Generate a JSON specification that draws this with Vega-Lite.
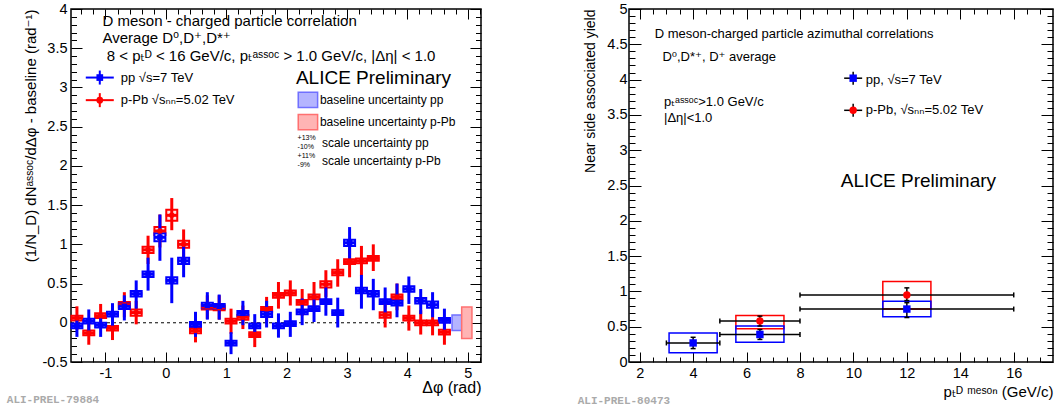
{
  "$schema": "https://vega.github.io/schema/vega-lite/v6.json",
  "background": "white",
  "padding": {"left": 6, "top": 0, "right": 0, "bottom": 0},
  "spacing": 93,
  "config": {
    "font": "Liberation Sans, DejaVu Sans, sans-serif",
    "view": {"stroke": "black", "strokeWidth": 1.5},
    "axis": {"grid": false, "domain": false, "labelColor": "black", "tickColor": "black", "titleColor": "black", "titleFontWeight": "normal", "labelFlush": false, "labelOverlap": false, "tickWidth": 1, "zindex": 1}
  },
  "datasets": {
    "zero": [{"x0": -1.5708, "x1": 4.7124, "y": 0}],
    "bunc": [
      {"s": "pp", "x0": 4.74, "x1": 4.90, "y0": -0.10, "y1": 0.10},
      {"s": "pp", "x0": 2.193, "x1": 2.514, "y0": 2.745, "y1": 2.939},
      {"s": "pPb", "x0": 4.90, "x1": 5.07, "y0": -0.20, "y1": 0.20},
      {"s": "pPb", "x0": 2.193, "x1": 2.514, "y0": 2.462, "y1": 2.656}
    ],
    "lpts": [
      {"p": -1.4726, "s": "pPb", "v": 0.06, "lo": -0.09, "hi": 0.21, "slo": 0.03, "shi": 0.09},
      {"p": -1.2763, "s": "pPb", "v": -0.13, "lo": -0.28, "hi": 0.03, "slo": -0.16, "shi": -0.10},
      {"p": -1.0799, "s": "pPb", "v": 0.09, "lo": -0.06, "hi": 0.24, "slo": 0.06, "shi": 0.12},
      {"p": -0.8836, "s": "pPb", "v": -0.07, "lo": -0.22, "hi": 0.09, "slo": -0.10, "shi": -0.04},
      {"p": -0.6872, "s": "pPb", "v": 0.23, "lo": 0.07, "hi": 0.39, "slo": 0.195, "shi": 0.265},
      {"p": -0.4909, "s": "pPb", "v": 0.13, "lo": -0.02, "hi": 0.28, "slo": 0.09, "shi": 0.17},
      {"p": -0.2945, "s": "pPb", "v": 0.93, "lo": 0.75, "hi": 1.11, "slo": 0.89, "shi": 0.97},
      {"p": -0.0982, "s": "pPb", "v": 1.17, "lo": 0.96, "hi": 1.38, "slo": 1.12, "shi": 1.22},
      {"p": 0.0982, "s": "pPb", "v": 1.37, "lo": 1.18, "hi": 1.59, "slo": 1.30, "shi": 1.44},
      {"p": 0.2945, "s": "pPb", "v": 1.00, "lo": 0.80, "hi": 1.19, "slo": 0.955, "shi": 1.045},
      {"p": 0.4909, "s": "pPb", "v": -0.10, "lo": -0.25, "hi": 0.05, "slo": -0.135, "shi": -0.065},
      {"p": 0.6872, "s": "pPb", "v": 0.20, "lo": 0.05, "hi": 0.35, "slo": 0.17, "shi": 0.23},
      {"p": 0.8836, "s": "pPb", "v": 0.19, "lo": 0.04, "hi": 0.35, "slo": 0.16, "shi": 0.22},
      {"p": 1.0799, "s": "pPb", "v": 0.02, "lo": -0.14, "hi": 0.18, "slo": -0.01, "shi": 0.05},
      {"p": 1.2763, "s": "pPb", "v": 0.07, "lo": -0.08, "hi": 0.22, "slo": 0.04, "shi": 0.10},
      {"p": 1.4726, "s": "pPb", "v": -0.15, "lo": -0.31, "hi": 0.01, "slo": -0.18, "shi": -0.12},
      {"p": 1.6690, "s": "pPb", "v": 0.17, "lo": 0.01, "hi": 0.33, "slo": 0.14, "shi": 0.20},
      {"p": 1.8653, "s": "pPb", "v": 0.35, "lo": 0.18, "hi": 0.52, "slo": 0.32, "shi": 0.38},
      {"p": 2.0617, "s": "pPb", "v": 0.38, "lo": 0.22, "hi": 0.54, "slo": 0.35, "shi": 0.41},
      {"p": 2.2580, "s": "pPb", "v": 0.26, "lo": 0.09, "hi": 0.43, "slo": 0.23, "shi": 0.29},
      {"p": 2.4544, "s": "pPb", "v": 0.33, "lo": 0.16, "hi": 0.52, "slo": 0.30, "shi": 0.36},
      {"p": 2.6507, "s": "pPb", "v": 0.49, "lo": 0.33, "hi": 0.67, "slo": 0.45, "shi": 0.53},
      {"p": 2.8471, "s": "pPb", "v": 0.64, "lo": 0.46, "hi": 0.81, "slo": 0.605, "shi": 0.675},
      {"p": 3.0434, "s": "pPb", "v": 0.78, "lo": 0.58, "hi": 0.96, "slo": 0.75, "shi": 0.81},
      {"p": 3.2398, "s": "pPb", "v": 0.79, "lo": 0.60, "hi": 0.98, "slo": 0.76, "shi": 0.82},
      {"p": 3.4361, "s": "pPb", "v": 0.82, "lo": 0.66, "hi": 1.00, "slo": 0.79, "shi": 0.85},
      {"p": 3.6325, "s": "pPb", "v": 0.10, "lo": -0.06, "hi": 0.26, "slo": 0.065, "shi": 0.135},
      {"p": 3.8288, "s": "pPb", "v": 0.33, "lo": 0.16, "hi": 0.50, "slo": 0.30, "shi": 0.36},
      {"p": 4.0252, "s": "pPb", "v": 0.06, "lo": -0.10, "hi": 0.22, "slo": 0.03, "shi": 0.09},
      {"p": 4.2215, "s": "pPb", "v": 0.00, "lo": -0.15, "hi": 0.16, "slo": -0.03, "shi": 0.03},
      {"p": 4.4179, "s": "pPb", "v": 0.00, "lo": -0.16, "hi": 0.16, "slo": -0.03, "shi": 0.03},
      {"p": 4.6142, "s": "pPb", "v": -0.12, "lo": -0.28, "hi": 0.03, "slo": -0.15, "shi": -0.09},
      {"p": -1.4726, "s": "pp", "v": -0.04, "lo": -0.18, "hi": 0.09, "slo": -0.07, "shi": -0.01},
      {"p": -1.2763, "s": "pp", "v": 0.02, "lo": -0.12, "hi": 0.17, "slo": -0.01, "shi": 0.05},
      {"p": -1.0799, "s": "pp", "v": -0.03, "lo": -0.18, "hi": 0.12, "slo": -0.06, "shi": 0.00},
      {"p": -0.8836, "s": "pp", "v": 0.11, "lo": -0.06, "hi": 0.25, "slo": 0.08, "shi": 0.14},
      {"p": -0.6872, "s": "pp", "v": 0.21, "lo": 0.03, "hi": 0.35, "slo": 0.175, "shi": 0.245},
      {"p": -0.4909, "s": "pp", "v": 0.37, "lo": 0.18, "hi": 0.54, "slo": 0.335, "shi": 0.405},
      {"p": -0.2945, "s": "pp", "v": 0.62, "lo": 0.41, "hi": 0.83, "slo": 0.585, "shi": 0.655},
      {"p": -0.0982, "s": "pp", "v": 1.09, "lo": 0.79, "hi": 1.38, "slo": 1.04, "shi": 1.14},
      {"p": 0.0982, "s": "pp", "v": 0.54, "lo": 0.25, "hi": 0.83, "slo": 0.50, "shi": 0.58},
      {"p": 0.2945, "s": "pp", "v": 0.79, "lo": 0.58, "hi": 1.00, "slo": 0.75, "shi": 0.83},
      {"p": 0.4909, "s": "pp", "v": -0.02, "lo": -0.18, "hi": 0.14, "slo": -0.05, "shi": 0.01},
      {"p": 0.6872, "s": "pp", "v": 0.22, "lo": 0.04, "hi": 0.39, "slo": 0.185, "shi": 0.255},
      {"p": 0.8836, "s": "pp", "v": 0.21, "lo": 0.04, "hi": 0.36, "slo": 0.18, "shi": 0.24},
      {"p": 1.0799, "s": "pp", "v": -0.26, "lo": -0.40, "hi": -0.12, "slo": -0.29, "shi": -0.23},
      {"p": 1.2763, "s": "pp", "v": 0.12, "lo": -0.03, "hi": 0.28, "slo": 0.09, "shi": 0.15},
      {"p": 1.4726, "s": "pp", "v": -0.04, "lo": -0.18, "hi": 0.11, "slo": -0.07, "shi": -0.01},
      {"p": 1.6690, "s": "pp", "v": 0.11, "lo": -0.06, "hi": 0.28, "slo": 0.075, "shi": 0.145},
      {"p": 1.8653, "s": "pp", "v": -0.04, "lo": -0.19, "hi": 0.12, "slo": -0.07, "shi": -0.01},
      {"p": 2.0617, "s": "pp", "v": -0.01, "lo": -0.18, "hi": 0.14, "slo": -0.04, "shi": 0.02},
      {"p": 2.2580, "s": "pp", "v": 0.14, "lo": -0.03, "hi": 0.31, "slo": 0.11, "shi": 0.17},
      {"p": 2.4544, "s": "pp", "v": 0.18, "lo": 0.01, "hi": 0.36, "slo": 0.15, "shi": 0.21},
      {"p": 2.6507, "s": "pp", "v": 0.27, "lo": 0.09, "hi": 0.45, "slo": 0.24, "shi": 0.30},
      {"p": 2.8471, "s": "pp", "v": 0.13, "lo": -0.06, "hi": 0.32, "slo": 0.10, "shi": 0.16},
      {"p": 3.0434, "s": "pp", "v": 1.02, "lo": 0.82, "hi": 1.22, "slo": 0.98, "shi": 1.06},
      {"p": 3.2398, "s": "pp", "v": 0.41, "lo": 0.18, "hi": 0.61, "slo": 0.375, "shi": 0.445},
      {"p": 3.4361, "s": "pp", "v": 0.37, "lo": 0.16, "hi": 0.56, "slo": 0.335, "shi": 0.405},
      {"p": 3.6325, "s": "pp", "v": 0.27, "lo": 0.07, "hi": 0.45, "slo": 0.24, "shi": 0.30},
      {"p": 3.8288, "s": "pp", "v": 0.25, "lo": 0.07, "hi": 0.50, "slo": 0.22, "shi": 0.28},
      {"p": 4.0252, "s": "pp", "v": 0.43, "lo": 0.24, "hi": 0.59, "slo": 0.395, "shi": 0.465},
      {"p": 4.2215, "s": "pp", "v": 0.28, "lo": 0.11, "hi": 0.43, "slo": 0.245, "shi": 0.315},
      {"p": 4.4179, "s": "pp", "v": 0.23, "lo": 0.07, "hi": 0.39, "slo": 0.19, "shi": 0.27},
      {"p": 4.6142, "s": "pp", "v": 0.03, "lo": -0.10, "hi": 0.18, "slo": 0.00, "shi": 0.06}
    ],
    "lleg": [{"s": "pp", "lx": -1.094, "ly": 3.126}, {"s": "pPb", "lx": -1.094, "ly": 2.838}],
    "lt15": [
      {"tx": -1.049, "ty": 3.845, "t": "D meson  - charged particle correlation"},
      {"tx": -1.049, "ty": 3.633, "t": "Average D⁰,D⁺,D*⁺"},
      {"tx": -0.978, "ty": 3.40, "t": "8 < pₜᴰ < 16 GeV/c, pₜᵃˢˢᵒᶜ > 1.0 GeV/c, |Δη| < 1.0"}
    ],
    "ltleg": [
      {"tx": -0.746, "ty": 3.126, "t": "pp √s=7 TeV"},
      {"tx": -0.746, "ty": 2.846, "t": "p-Pb √sₙₙ=5.02 TeV"}
    ],
    "ltA": [{"tx": 2.154, "ty": 3.117, "t": "ALICE Preliminary"}],
    "ltsm": [
      {"tx": 2.552, "ty": 2.834, "t": "baseline uncertainty pp"},
      {"tx": 2.552, "ty": 2.558, "t": "baseline uncertainty p-Pb"},
      {"tx": 2.585, "ty": 2.292, "t": "scale uncertainty pp"},
      {"tx": 2.585, "ty": 2.06, "t": "scale uncertainty p-Pb"}
    ],
    "lttiny": [
      {"tx": 2.182, "ty": 2.355, "t": "+13%"},
      {"tx": 2.182, "ty": 2.241, "t": "-10%"},
      {"tx": 2.182, "ty": 2.123, "t": "+11%"},
      {"tx": 2.182, "ty": 2.009, "t": "-9%"}
    ],
    "ltali": [{"tx": -2.634, "ty": -0.986, "t": "ALI-PREL-79884"}],
    "rpts": [
      {"x": 6.5, "xlo": 5, "xhi": 8, "s": "pPb", "v": 0.58, "lo": 0.51, "hi": 0.65, "bx0": 5.6, "bx1": 7.4, "by0": 0.47, "by1": 0.66},
      {"x": 12, "xlo": 8, "xhi": 16, "s": "pPb", "v": 0.95, "lo": 0.87, "hi": 1.05, "bx0": 11.1, "bx1": 12.9, "by0": 0.75, "by1": 1.14},
      {"x": 4, "xlo": 3, "xhi": 5, "s": "pp", "v": 0.27, "lo": 0.19, "hi": 0.35, "bx0": 3.1, "bx1": 4.9, "by0": 0.13, "by1": 0.41},
      {"x": 6.5, "xlo": 5, "xhi": 8, "s": "pp", "v": 0.39, "lo": 0.32, "hi": 0.46, "bx0": 5.6, "bx1": 7.4, "by0": 0.28, "by1": 0.51},
      {"x": 12, "xlo": 8, "xhi": 16, "s": "pp", "v": 0.75, "lo": 0.63, "hi": 0.84, "bx0": 11.1, "bx1": 12.9, "by0": 0.64, "by1": 0.86}
    ],
    "rleg": [{"s": "pp", "lx": 9.99, "ly": 4.02}, {"s": "pPb", "lx": 9.99, "ly": 3.565}],
    "rt13": [
      {"tx": 2.56, "ty": 4.64, "t": "D meson-charged particle azimuthal correlations"},
      {"tx": 2.85, "ty": 4.32, "t": "D⁰,D*⁺, D⁺ average"},
      {"tx": 2.91, "ty": 3.68, "t": "pₜᵃˢˢᵒᶜ>1.0 GeV/c"},
      {"tx": 2.91, "ty": 3.45, "t": "|Δη|<1.0"},
      {"tx": 10.46, "ty": 3.99, "t": "pp, √s=7 TeV"},
      {"tx": 10.46, "ty": 3.565, "t": "p-Pb, √sₙₙ=5.02 TeV"}
    ],
    "rtA": [{"tx": 9.53, "ty": 2.57, "t": "ALICE Preliminary"}],
    "rtali": [{"tx": -0.32, "ty": -0.554, "t": "ALI-PREL-80473"}]
  },
  "hconcat": [
    {
      "width": 410,
      "height": 353,
      "resolve": {"axis": {"x": "independent", "y": "independent"}},
      "layer": [
        {
          "data": {"name": "zero"},
          "mark": {"type": "rule", "strokeDash": [3, 3], "color": "black", "strokeWidth": 1},
          "encoding": {
            "x": {"field": "x0", "type": "quantitative", "scale": {"domain": [-1.5708, 5.22], "nice": false, "zero": false, "padding": 0},
              "axis": {"orient": "bottom", "values": [-1, 0, 1, 2, 3, 4, 5], "tickSize": -10,
                "labelExpr": "'' + datum.value", "labelPadding": 14, "labelFontSize": 14.5,
                "title": "Δφ (rad)", "titleAnchor": "end", "titleFontSize": 16, "titlePadding": 0}},
            "x2": {"field": "x1"},
            "y": {"field": "y", "type": "quantitative", "scale": {"domain": [-0.5, 4], "nice": false, "zero": false, "padding": 0},
              "axis": {"orient": "left", "values": [-0.5, 0, 0.5, 1, 1.5, 2, 2.5, 3, 3.5, 4], "tickSize": -11,
                "labelExpr": "'' + datum.value", "labelPadding": 15, "labelFontSize": 14.5,
                "title": "(1/N_D) dNᵃˢˢᵒᶜ/dΔφ - baseline (rad⁻¹)", "titleAnchor": "end", "titleFontSize": 15, "titlePadding": 4}}
          }
        },
        {
          "data": {"name": "bunc"},
          "transform": [{"filter": "datum.s == 'pp'"}],
          "mark": {"type": "rect", "fill": "#b4b4ff", "stroke": "#7070ff", "strokeWidth": 1.5},
          "encoding": {
            "x": {"field": "x0", "type": "quantitative", "scale": {"domain": [-1.5708, 5.22], "nice": false, "zero": false, "padding": 0},
              "axis": {"orient": "top", "values": [-1, 0, 1, 2, 3, 4, 5], "tickSize": -10, "labels": false, "title": null}},
            "x2": {"field": "x1"},
            "y": {"field": "y0", "type": "quantitative", "scale": {"domain": [-0.5, 4], "nice": false, "zero": false, "padding": 0},
              "axis": {"orient": "right", "values": [-0.5, 0, 0.5, 1, 1.5, 2, 2.5, 3, 3.5, 4], "tickSize": -11, "labels": false, "title": null}},
            "y2": {"field": "y1"}
          }
        },
        {
          "data": {"name": "bunc"},
          "transform": [{"filter": "datum.s == 'pPb'"}],
          "mark": {"type": "rect", "fill": "#ffb4b4", "stroke": "#ff7070", "strokeWidth": 1.5},
          "encoding": {
            "x": {"field": "x0", "type": "quantitative", "scale": {"domain": [-1.5708, 5.22], "nice": false, "zero": false, "padding": 0},
              "axis": {"orient": "bottom", "values": [-1.4,-1.2,-0.8,-0.6,-0.4,-0.2,0.2,0.4,0.6,0.8,1.2,1.4,1.6,1.8,2.2,2.4,2.6,2.8,3.2,3.4,3.6,3.8,4.2,4.4,4.6,4.8,5.2], "tickSize": -5, "labels": false, "title": null}},
            "x2": {"field": "x1"},
            "y": {"field": "y0", "type": "quantitative", "scale": {"domain": [-0.5, 4], "nice": false, "zero": false, "padding": 0},
              "axis": {"orient": "left", "values": [-0.4,-0.3,-0.2,-0.1,0.1,0.2,0.3,0.4,0.6,0.7,0.8,0.9,1.1,1.2,1.3,1.4,1.6,1.7,1.8,1.9,2.1,2.2,2.3,2.4,2.6,2.7,2.8,2.9,3.1,3.2,3.3,3.4,3.6,3.7,3.8,3.9], "tickSize": -5.5, "labels": false, "title": null}},
            "y2": {"field": "y1"}
          }
        },
        {
          "data": {"name": "lpts"},
          "mark": {"type": "bar", "width": 11, "strokeWidth": 2},
          "encoding": {
            "x": {"field": "p", "type": "quantitative", "scale": {"domain": [-1.5708, 5.22], "nice": false, "zero": false, "padding": 0},
              "axis": {"orient": "top", "values": [-1.4,-1.2,-0.8,-0.6,-0.4,-0.2,0.2,0.4,0.6,0.8,1.2,1.4,1.6,1.8,2.2,2.4,2.6,2.8,3.2,3.4,3.6,3.8,4.2,4.4,4.6,4.8,5.2], "tickSize": -5, "labels": false, "title": null}},
            "y": {"field": "slo", "type": "quantitative", "scale": {"domain": [-0.5, 4], "nice": false, "zero": false, "padding": 0},
              "axis": {"orient": "right", "values": [-0.4,-0.3,-0.2,-0.1,0.1,0.2,0.3,0.4,0.6,0.7,0.8,0.9,1.1,1.2,1.3,1.4,1.6,1.7,1.8,1.9,2.1,2.2,2.3,2.4,2.6,2.7,2.8,2.9,3.1,3.2,3.3,3.4,3.6,3.7,3.8,3.9], "tickSize": -5.5, "labels": false, "title": null}},
            "y2": {"field": "shi"},
            "stroke": {"field": "s", "type": "nominal", "scale": {"domain": ["pp", "pPb"], "range": ["#0000ff", "#ff0000"]}, "legend": null},
            "fill": {"field": "s", "type": "nominal", "scale": {"domain": ["pp", "pPb"], "range": ["#e4e4ff", "#ffe4e4"]}, "legend": null}
          }
        },
        {
          "data": {"name": "lpts"},
          "mark": {"type": "rule", "strokeWidth": 3},
          "encoding": {
            "x": {"field": "p", "type": "quantitative", "scale": {"domain": [-1.5708, 5.22], "nice": false, "zero": false, "padding": 0}, "axis": null},
            "y": {"field": "lo", "type": "quantitative", "scale": {"domain": [-0.5, 4], "nice": false, "zero": false, "padding": 0}, "axis": null},
            "y2": {"field": "hi"},
            "color": {"field": "s", "type": "nominal", "scale": {"domain": ["pp", "pPb"], "range": ["#0000ff", "#ff0000"]}, "legend": null}
          }
        },
        {
          "data": {"name": "lpts"},
          "mark": {"type": "tick", "orient": "horizontal", "size": 12, "thickness": 3, "opacity": 1},
          "encoding": {
            "x": {"field": "p", "type": "quantitative", "scale": {"domain": [-1.5708, 5.22], "nice": false, "zero": false, "padding": 0}, "axis": null},
            "y": {"field": "v", "type": "quantitative", "scale": {"domain": [-0.5, 4], "nice": false, "zero": false, "padding": 0}, "axis": null},
            "color": {"field": "s", "type": "nominal", "scale": {"domain": ["pp", "pPb"], "range": ["#0000ff", "#ff0000"]}, "legend": null}
          }
        },
        {
          "data": {"name": "lpts"},
          "mark": {"type": "point", "filled": true, "opacity": 1, "size": 30},
          "encoding": {
            "x": {"field": "p", "type": "quantitative", "scale": {"domain": [-1.5708, 5.22], "nice": false, "zero": false, "padding": 0}, "axis": null},
            "y": {"field": "v", "type": "quantitative", "scale": {"domain": [-0.5, 4], "nice": false, "zero": false, "padding": 0}, "axis": null},
            "color": {"field": "s", "type": "nominal", "scale": {"domain": ["pp", "pPb"], "range": ["#0000ff", "#ff0000"]}, "legend": null},
            "shape": {"field": "s", "type": "nominal", "scale": {"domain": ["pp", "pPb"], "range": ["square", "circle"]}, "legend": null}
          }
        },
        {
          "data": {"name": "lleg"},
          "mark": {"type": "tick", "orient": "horizontal", "size": 28, "thickness": 2, "opacity": 1},
          "encoding": {
            "x": {"field": "lx", "type": "quantitative", "scale": {"domain": [-1.5708, 5.22], "nice": false, "zero": false, "padding": 0}, "axis": null},
            "y": {"field": "ly", "type": "quantitative", "scale": {"domain": [-0.5, 4], "nice": false, "zero": false, "padding": 0}, "axis": null},
            "color": {"field": "s", "type": "nominal", "scale": {"domain": ["pp", "pPb"], "range": ["#0000ff", "#ff0000"]}, "legend": null}
          }
        },
        {
          "data": {"name": "lleg"},
          "mark": {"type": "tick", "orient": "vertical", "size": 14, "thickness": 2, "opacity": 1},
          "encoding": {
            "x": {"field": "lx", "type": "quantitative", "scale": {"domain": [-1.5708, 5.22], "nice": false, "zero": false, "padding": 0}, "axis": null},
            "y": {"field": "ly", "type": "quantitative", "scale": {"domain": [-0.5, 4], "nice": false, "zero": false, "padding": 0}, "axis": null},
            "color": {"field": "s", "type": "nominal", "scale": {"domain": ["pp", "pPb"], "range": ["#0000ff", "#ff0000"]}, "legend": null}
          }
        },
        {
          "data": {"name": "lleg"},
          "mark": {"type": "point", "filled": true, "opacity": 1, "size": 45},
          "encoding": {
            "x": {"field": "lx", "type": "quantitative", "scale": {"domain": [-1.5708, 5.22], "nice": false, "zero": false, "padding": 0}, "axis": null},
            "y": {"field": "ly", "type": "quantitative", "scale": {"domain": [-0.5, 4], "nice": false, "zero": false, "padding": 0}, "axis": null},
            "color": {"field": "s", "type": "nominal", "scale": {"domain": ["pp", "pPb"], "range": ["#0000ff", "#ff0000"]}, "legend": null},
            "shape": {"field": "s", "type": "nominal", "scale": {"domain": ["pp", "pPb"], "range": ["square", "circle"]}, "legend": null}
          }
        },
        {
          "data": {"name": "lt15"},
          "mark": {"type": "text", "align": "left", "baseline": "middle", "fontSize": 15, "color": "black"},
          "encoding": {
            "x": {"field": "tx", "type": "quantitative", "scale": {"domain": [-1.5708, 5.22], "nice": false, "zero": false, "padding": 0}, "axis": null},
            "y": {"field": "ty", "type": "quantitative", "scale": {"domain": [-0.5, 4], "nice": false, "zero": false, "padding": 0}, "axis": null},
            "text": {"field": "t"}
          }
        },
        {
          "data": {"name": "ltleg"},
          "mark": {"type": "text", "align": "left", "baseline": "middle", "fontSize": 13, "color": "black"},
          "encoding": {
            "x": {"field": "tx", "type": "quantitative", "scale": {"domain": [-1.5708, 5.22], "nice": false, "zero": false, "padding": 0}, "axis": null},
            "y": {"field": "ty", "type": "quantitative", "scale": {"domain": [-0.5, 4], "nice": false, "zero": false, "padding": 0}, "axis": null},
            "text": {"field": "t"}
          }
        },
        {
          "data": {"name": "ltA"},
          "mark": {"type": "text", "align": "left", "baseline": "middle", "fontSize": 19, "color": "black"},
          "encoding": {
            "x": {"field": "tx", "type": "quantitative", "scale": {"domain": [-1.5708, 5.22], "nice": false, "zero": false, "padding": 0}, "axis": null},
            "y": {"field": "ty", "type": "quantitative", "scale": {"domain": [-0.5, 4], "nice": false, "zero": false, "padding": 0}, "axis": null},
            "text": {"field": "t"}
          }
        },
        {
          "data": {"name": "ltsm"},
          "mark": {"type": "text", "align": "left", "baseline": "middle", "fontSize": 12, "color": "black"},
          "encoding": {
            "x": {"field": "tx", "type": "quantitative", "scale": {"domain": [-1.5708, 5.22], "nice": false, "zero": false, "padding": 0}, "axis": null},
            "y": {"field": "ty", "type": "quantitative", "scale": {"domain": [-0.5, 4], "nice": false, "zero": false, "padding": 0}, "axis": null},
            "text": {"field": "t"}
          }
        },
        {
          "data": {"name": "lttiny"},
          "mark": {"type": "text", "align": "left", "baseline": "middle", "fontSize": 7, "color": "black"},
          "encoding": {
            "x": {"field": "tx", "type": "quantitative", "scale": {"domain": [-1.5708, 5.22], "nice": false, "zero": false, "padding": 0}, "axis": null},
            "y": {"field": "ty", "type": "quantitative", "scale": {"domain": [-0.5, 4], "nice": false, "zero": false, "padding": 0}, "axis": null},
            "text": {"field": "t"}
          }
        },
        {
          "data": {"name": "ltali"},
          "mark": {"type": "text", "align": "left", "baseline": "middle", "fontSize": 11, "font": "Liberation Mono", "fontWeight": "bold", "color": "#aaaaaa"},
          "encoding": {
            "x": {"field": "tx", "type": "quantitative", "scale": {"domain": [-1.5708, 5.22], "nice": false, "zero": false, "padding": 0}, "axis": null},
            "y": {"field": "ty", "type": "quantitative", "scale": {"domain": [-0.5, 4], "nice": false, "zero": false, "padding": 0}, "axis": null},
            "text": {"field": "t"}
          }
        }
      ]
    },
    {
      "width": 424,
      "height": 353,
      "resolve": {"axis": {"x": "independent", "y": "independent"}},
      "layer": [
        {
          "data": {"name": "rpts"},
          "mark": {"type": "rect", "fill": "transparent", "strokeWidth": 1.5},
          "encoding": {
            "x": {"field": "bx0", "type": "quantitative", "scale": {"domain": [1.6, 17.47], "nice": false, "zero": false, "padding": 0},
              "axis": {"orient": "bottom", "values": [2, 4, 6, 8, 10, 12, 14, 16], "tickSize": -10,
                "labelExpr": "'' + datum.value", "labelPadding": 14, "labelFontSize": 14.5,
                "title": "pₜᴰ ᵐᵉˢᵒⁿ (GeV/c)", "titleAnchor": "end", "titleFontSize": 15, "titlePadding": 5}},
            "x2": {"field": "bx1"},
            "y": {"field": "by0", "type": "quantitative", "scale": {"domain": [0, 5], "nice": false, "zero": false, "padding": 0},
              "axis": {"orient": "left", "values": [0, 0.5, 1, 1.5, 2, 2.5, 3, 3.5, 4, 4.5, 5], "tickSize": -12,
                "labelExpr": "'' + datum.value", "labelPadding": 14, "labelFontSize": 14.5,
                "title": "Near side associated yield", "titleAnchor": "end", "titleFontSize": 14, "titlePadding": 9}},
            "y2": {"field": "by1"},
            "stroke": {"field": "s", "type": "nominal", "scale": {"domain": ["pp", "pPb"], "range": ["#0000ff", "#ff0000"]}, "legend": null}
          }
        },
        {
          "data": {"name": "rpts"},
          "mark": {"type": "rule", "strokeWidth": 1.5, "color": "black"},
          "encoding": {
            "x": {"field": "xlo", "type": "quantitative", "scale": {"domain": [1.6, 17.47], "nice": false, "zero": false, "padding": 0},
              "axis": {"orient": "top", "values": [2, 4, 6, 8, 10, 12, 14, 16], "tickSize": -10, "labels": false, "title": null}},
            "x2": {"field": "xhi"},
            "y": {"field": "v", "type": "quantitative", "scale": {"domain": [0, 5], "nice": false, "zero": false, "padding": 0},
              "axis": {"orient": "right", "values": [0, 0.5, 1, 1.5, 2, 2.5, 3, 3.5, 4, 4.5, 5], "tickSize": -12, "labels": false, "title": null}}
          }
        },
        {
          "data": {"name": "rpts"},
          "mark": {"type": "tick", "orient": "vertical", "size": 5, "thickness": 1.5, "color": "black", "opacity": 1},
          "encoding": {
            "x": {"field": "xlo", "type": "quantitative", "scale": {"domain": [1.6, 17.47], "nice": false, "zero": false, "padding": 0},
              "axis": {"orient": "bottom", "values": [2.5,3,3.5,4.5,5,5.5,6.5,7,7.5,8.5,9,9.5,10.5,11,11.5,12.5,13,13.5,14.5,15,15.5,16.5,17], "tickSize": -5, "labels": false, "title": null}},
            "y": {"field": "v", "type": "quantitative", "scale": {"domain": [0, 5], "nice": false, "zero": false, "padding": 0},
              "axis": {"orient": "left", "values": [0.1,0.2,0.3,0.4,0.6,0.7,0.8,0.9,1.1,1.2,1.3,1.4,1.6,1.7,1.8,1.9,2.1,2.2,2.3,2.4,2.6,2.7,2.8,2.9,3.1,3.2,3.3,3.4,3.6,3.7,3.8,3.9,4.1,4.2,4.3,4.4,4.6,4.7,4.8,4.9], "tickSize": -6, "labels": false, "title": null}}
          }
        },
        {
          "data": {"name": "rpts"},
          "mark": {"type": "tick", "orient": "vertical", "size": 5, "thickness": 1.5, "color": "black", "opacity": 1},
          "encoding": {
            "x": {"field": "xhi", "type": "quantitative", "scale": {"domain": [1.6, 17.47], "nice": false, "zero": false, "padding": 0},
              "axis": {"orient": "top", "values": [2.5,3,3.5,4.5,5,5.5,6.5,7,7.5,8.5,9,9.5,10.5,11,11.5,12.5,13,13.5,14.5,15,15.5,16.5,17], "tickSize": -5, "labels": false, "title": null}},
            "y": {"field": "v", "type": "quantitative", "scale": {"domain": [0, 5], "nice": false, "zero": false, "padding": 0},
              "axis": {"orient": "right", "values": [0.1,0.2,0.3,0.4,0.6,0.7,0.8,0.9,1.1,1.2,1.3,1.4,1.6,1.7,1.8,1.9,2.1,2.2,2.3,2.4,2.6,2.7,2.8,2.9,3.1,3.2,3.3,3.4,3.6,3.7,3.8,3.9,4.1,4.2,4.3,4.4,4.6,4.7,4.8,4.9], "tickSize": -6, "labels": false, "title": null}}
          }
        },
        {
          "data": {"name": "rpts"},
          "mark": {"type": "rule", "strokeWidth": 1.5, "color": "black"},
          "encoding": {
            "x": {"field": "x", "type": "quantitative", "scale": {"domain": [1.6, 17.47], "nice": false, "zero": false, "padding": 0}, "axis": null},
            "y": {"field": "lo", "type": "quantitative", "scale": {"domain": [0, 5], "nice": false, "zero": false, "padding": 0}, "axis": null},
            "y2": {"field": "hi"}
          }
        },
        {
          "data": {"name": "rpts"},
          "mark": {"type": "tick", "orient": "horizontal", "size": 5, "thickness": 1.5, "color": "black", "opacity": 1},
          "encoding": {
            "x": {"field": "x", "type": "quantitative", "scale": {"domain": [1.6, 17.47], "nice": false, "zero": false, "padding": 0}, "axis": null},
            "y": {"field": "lo", "type": "quantitative", "scale": {"domain": [0, 5], "nice": false, "zero": false, "padding": 0}, "axis": null}
          }
        },
        {
          "data": {"name": "rpts"},
          "mark": {"type": "tick", "orient": "horizontal", "size": 5, "thickness": 1.5, "color": "black", "opacity": 1},
          "encoding": {
            "x": {"field": "x", "type": "quantitative", "scale": {"domain": [1.6, 17.47], "nice": false, "zero": false, "padding": 0}, "axis": null},
            "y": {"field": "hi", "type": "quantitative", "scale": {"domain": [0, 5], "nice": false, "zero": false, "padding": 0}, "axis": null}
          }
        },
        {
          "data": {"name": "rpts"},
          "mark": {"type": "point", "filled": true, "opacity": 1, "size": 55},
          "encoding": {
            "x": {"field": "x", "type": "quantitative", "scale": {"domain": [1.6, 17.47], "nice": false, "zero": false, "padding": 0}, "axis": null},
            "y": {"field": "v", "type": "quantitative", "scale": {"domain": [0, 5], "nice": false, "zero": false, "padding": 0}, "axis": null},
            "color": {"field": "s", "type": "nominal", "scale": {"domain": ["pp", "pPb"], "range": ["#0000ff", "#ff0000"]}, "legend": null},
            "shape": {"field": "s", "type": "nominal", "scale": {"domain": ["pp", "pPb"], "range": ["square", "circle"]}, "legend": null}
          }
        },
        {
          "data": {"name": "rleg"},
          "mark": {"type": "tick", "orient": "horizontal", "size": 18, "thickness": 1.5, "color": "black", "opacity": 1},
          "encoding": {
            "x": {"field": "lx", "type": "quantitative", "scale": {"domain": [1.6, 17.47], "nice": false, "zero": false, "padding": 0}, "axis": null},
            "y": {"field": "ly", "type": "quantitative", "scale": {"domain": [0, 5], "nice": false, "zero": false, "padding": 0}, "axis": null}
          }
        },
        {
          "data": {"name": "rleg"},
          "mark": {"type": "tick", "orient": "vertical", "size": 13, "thickness": 1.5, "color": "black", "opacity": 1},
          "encoding": {
            "x": {"field": "lx", "type": "quantitative", "scale": {"domain": [1.6, 17.47], "nice": false, "zero": false, "padding": 0}, "axis": null},
            "y": {"field": "ly", "type": "quantitative", "scale": {"domain": [0, 5], "nice": false, "zero": false, "padding": 0}, "axis": null}
          }
        },
        {
          "data": {"name": "rleg"},
          "mark": {"type": "point", "filled": true, "opacity": 1, "size": 55},
          "encoding": {
            "x": {"field": "lx", "type": "quantitative", "scale": {"domain": [1.6, 17.47], "nice": false, "zero": false, "padding": 0}, "axis": null},
            "y": {"field": "ly", "type": "quantitative", "scale": {"domain": [0, 5], "nice": false, "zero": false, "padding": 0}, "axis": null},
            "color": {"field": "s", "type": "nominal", "scale": {"domain": ["pp", "pPb"], "range": ["#0000ff", "#ff0000"]}, "legend": null},
            "shape": {"field": "s", "type": "nominal", "scale": {"domain": ["pp", "pPb"], "range": ["square", "circle"]}, "legend": null}
          }
        },
        {
          "data": {"name": "rt13"},
          "mark": {"type": "text", "align": "left", "baseline": "middle", "fontSize": 13, "color": "black"},
          "encoding": {
            "x": {"field": "tx", "type": "quantitative", "scale": {"domain": [1.6, 17.47], "nice": false, "zero": false, "padding": 0}, "axis": null},
            "y": {"field": "ty", "type": "quantitative", "scale": {"domain": [0, 5], "nice": false, "zero": false, "padding": 0}, "axis": null},
            "text": {"field": "t"}
          }
        },
        {
          "data": {"name": "rtA"},
          "mark": {"type": "text", "align": "left", "baseline": "middle", "fontSize": 19, "color": "black"},
          "encoding": {
            "x": {"field": "tx", "type": "quantitative", "scale": {"domain": [1.6, 17.47], "nice": false, "zero": false, "padding": 0}, "axis": null},
            "y": {"field": "ty", "type": "quantitative", "scale": {"domain": [0, 5], "nice": false, "zero": false, "padding": 0}, "axis": null},
            "text": {"field": "t"}
          }
        },
        {
          "data": {"name": "rtali"},
          "mark": {"type": "text", "align": "left", "baseline": "middle", "fontSize": 11, "font": "Liberation Mono", "fontWeight": "bold", "color": "#aaaaaa"},
          "encoding": {
            "x": {"field": "tx", "type": "quantitative", "scale": {"domain": [1.6, 17.47], "nice": false, "zero": false, "padding": 0}, "axis": null},
            "y": {"field": "ty", "type": "quantitative", "scale": {"domain": [0, 5], "nice": false, "zero": false, "padding": 0}, "axis": null},
            "text": {"field": "t"}
          }
        }
      ]
    }
  ]
}
